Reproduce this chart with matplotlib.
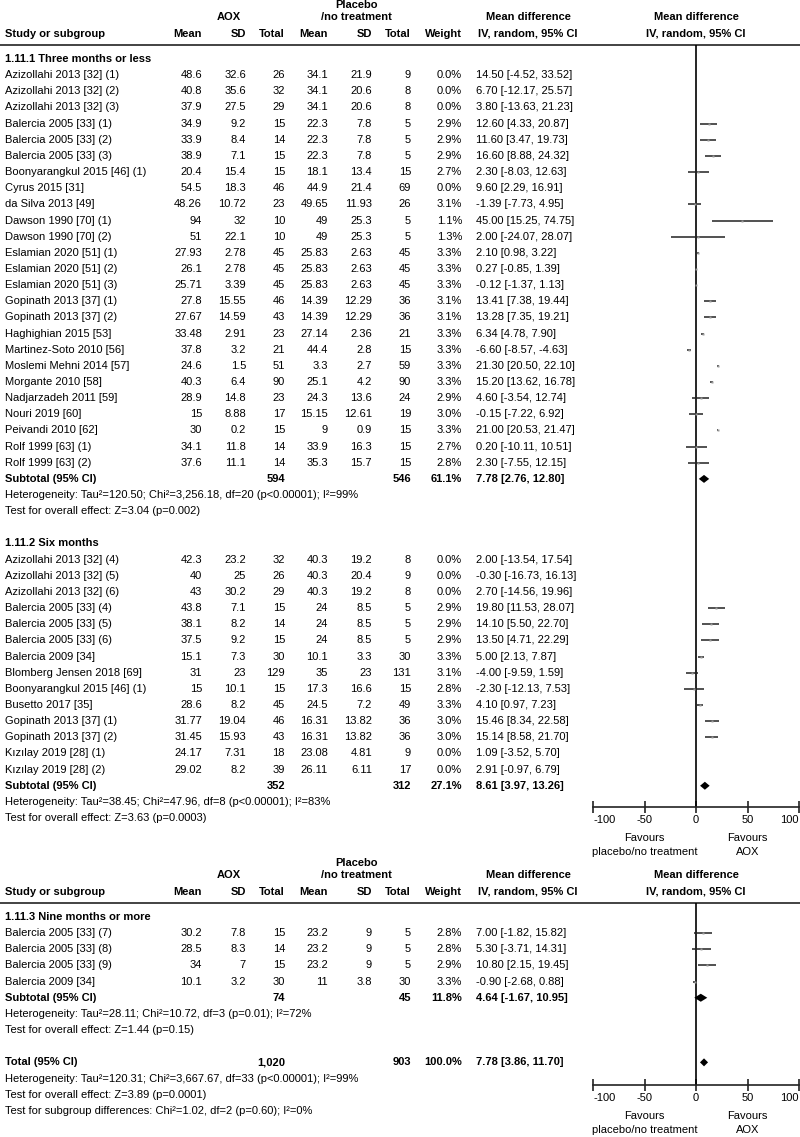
import matplotlib
matplotlib.use("Agg")
import matplotlib.pyplot as plt

plt.rcParams["font.family"] = ["Liberation Sans", "DejaVu Sans"]
plt.rcParams["axes.unicode_minus"] = False

# ---- 1.11.1 Three months or less ----
g1_study = ["Azizollahi 2013 [32] (1)", "Azizollahi 2013 [32] (2)", "Azizollahi 2013 [32] (3)",
            "Balercia 2005 [33] (1)", "Balercia 2005 [33] (2)", "Balercia 2005 [33] (3)",
            "Boonyarangkul 2015 [46] (1)", "Cyrus 2015 [31]", "da Silva 2013 [49]",
            "Dawson 1990 [70] (1)", "Dawson 1990 [70] (2)", "Eslamian 2020 [51] (1)",
            "Eslamian 2020 [51] (2)", "Eslamian 2020 [51] (3)", "Gopinath 2013 [37] (1)",
            "Gopinath 2013 [37] (2)", "Haghighian 2015 [53]", "Martinez-Soto 2010 [56]",
            "Moslemi Mehni 2014 [57]", "Morgante 2010 [58]", "Nadjarzadeh 2011 [59]",
            "Nouri 2019 [60]", "Peivandi 2010 [62]", "Rolf 1999 [63] (1)", "Rolf 1999 [63] (2)"]
g1_aox_mean = [48.6, 40.8, 37.9, 34.9, 33.9, 38.9, 20.4, 54.5, 48.26, 94, 51, 27.93, 26.1, 25.71,
               27.8, 27.67, 33.48, 37.8, 24.6, 40.3, 28.9, 15, 30, 34.1, 37.6]
g1_aox_sd = [32.6, 35.6, 27.5, 9.2, 8.4, 7.1, 15.4, 18.3, 10.72, 32, 22.1, 2.78, 2.78, 3.39,
             15.55, 14.59, 2.91, 3.2, 1.5, 6.4, 14.8, 8.88, 0.2, 11.8, 11.1]
g1_aox_n = [26, 32, 29, 15, 14, 15, 15, 46, 23, 10, 10, 45, 45, 45, 46, 43, 23, 21, 51, 90, 23,
            17, 15, 14, 14]
g1_pl_mean = [34.1, 34.1, 34.1, 22.3, 22.3, 22.3, 18.1, 44.9, 49.65, 49, 49, 25.83, 25.83, 25.83,
              14.39, 14.39, 27.14, 44.4, 3.3, 25.1, 24.3, 15.15, 9, 33.9, 35.3]
g1_pl_sd = [21.9, 20.6, 20.6, 7.8, 7.8, 7.8, 13.4, 21.4, 11.93, 25.3, 25.3, 2.63, 2.63, 2.63,
            12.29, 12.29, 2.36, 2.8, 2.7, 4.2, 13.6, 12.61, 0.9, 16.3, 15.7]
g1_pl_n = [9, 8, 8, 5, 5, 5, 15, 69, 26, 5, 5, 45, 45, 45, 36, 36, 21, 15, 59, 90, 24, 19, 15,
           15, 15]
g1_weight = [0.0, 0.0, 0.0, 2.9, 2.9, 2.9, 2.7, 0.0, 3.1, 1.1, 1.3, 3.3, 3.3, 3.3, 3.1, 3.1, 3.3,
             3.3, 3.3, 3.3, 2.9, 3.0, 3.3, 2.7, 2.8]
g1_md = [14.50, 6.70, 3.80, 12.60, 11.60, 16.60, 2.30, 9.60, -1.39, 45.00, 2.00, 2.10, 0.27,
         -0.12, 13.41, 13.28, 6.34, -6.60, 21.30, 15.20, 4.60, -0.15, 21.00, 0.20, 2.30]
g1_lo = [-4.52, -12.17, -13.63, 4.33, 3.47, 8.88, -8.03, 2.29, -7.73, 15.25, -24.07, 0.98, -0.85,
         -1.37, 7.38, 7.35, 4.78, -8.57, 20.50, 13.62, -3.54, -7.22, 20.53, -10.11, -7.55]
g1_hi = [33.52, 25.57, 21.23, 20.87, 19.73, 24.32, 12.63, 16.91, 4.95, 74.75, 28.07, 3.22, 1.39,
         1.13, 19.44, 19.21, 7.90, -4.63, 22.10, 16.78, 12.74, 6.92, 21.47, 10.51, 12.15]

# ---- 1.11.2 Six months ----
g2_study = ["Azizollahi 2013 [32] (4)", "Azizollahi 2013 [32] (5)", "Azizollahi 2013 [32] (6)",
            "Balercia 2005 [33] (4)", "Balercia 2005 [33] (5)", "Balercia 2005 [33] (6)",
            "Balercia 2009 [34]", "Blomberg Jensen 2018 [69]", "Boonyarangkul 2015 [46] (1)",
            "Busetto 2017 [35]", "Gopinath 2013 [37] (1)", "Gopinath 2013 [37] (2)",
            "Kızılay 2019 [28] (1)", "Kızılay 2019 [28] (2)"]
g2_aox_mean = [42.3, 40, 43, 43.8, 38.1, 37.5, 15.1, 31, 15, 28.6, 31.77, 31.45, 24.17, 29.02]
g2_aox_sd = [23.2, 25, 30.2, 7.1, 8.2, 9.2, 7.3, 23, 10.1, 8.2, 19.04, 15.93, 7.31, 8.2]
g2_aox_n = [32, 26, 29, 15, 14, 15, 30, 129, 15, 45, 46, 43, 18, 39]
g2_pl_mean = [40.3, 40.3, 40.3, 24, 24, 24, 10.1, 35, 17.3, 24.5, 16.31, 16.31, 23.08, 26.11]
g2_pl_sd = [19.2, 20.4, 19.2, 8.5, 8.5, 8.5, 3.3, 23, 16.6, 7.2, 13.82, 13.82, 4.81, 6.11]
g2_pl_n = [8, 9, 8, 5, 5, 5, 30, 131, 15, 49, 36, 36, 9, 17]
g2_weight = [0.0, 0.0, 0.0, 2.9, 2.9, 2.9, 3.3, 3.1, 2.8, 3.3, 3.0, 3.0, 0.0, 0.0]
g2_md = [2.00, -0.30, 2.70, 19.80, 14.10, 13.50, 5.00, -4.00, -2.30, 4.10, 15.46, 15.14, 1.09, 2.91]
g2_lo = [-13.54, -16.73, -14.56, 11.53, 5.50, 4.71, 2.13, -9.59, -12.13, 0.97, 8.34, 8.58, -3.52,
         -0.97]
g2_hi = [17.54, 16.13, 19.96, 28.07, 22.70, 22.29, 7.87, 1.59, 7.53, 7.23, 22.58, 21.70, 5.70, 6.79]

# ---- 1.11.3 Nine months or more ----
g3_study = ["Balercia 2005 [33] (7)", "Balercia 2005 [33] (8)", "Balercia 2005 [33] (9)",
            "Balercia 2009 [34]"]
g3_aox_mean = [30.2, 28.5, 34, 10.1]
g3_aox_sd = [7.8, 8.3, 7, 3.2]
g3_aox_n = [15, 14, 15, 30]
g3_pl_mean = [23.2, 23.2, 23.2, 11]
g3_pl_sd = [9, 9, 9, 3.8]
g3_pl_n = [5, 5, 5, 30]
g3_weight = [2.8, 2.8, 2.9, 3.3]
g3_md = [7.00, 5.30, 10.80, -0.90]
g3_lo = [-1.82, -3.71, 2.15, -2.68]
g3_hi = [15.82, 14.31, 19.45, 0.88]

# subtotals: group 1, group 2, group 3, overall total
sum_aox_n = ["594", "352", "74", "1,020"]
sum_pl_n = ["546", "312", "45", "903"]
sum_weight = [61.1, 27.1, 11.8, 100.0]
sum_md = [7.78, 8.61, 4.64, 7.78]
sum_lo = [2.76, 3.97, -1.67, 3.86]
sum_hi = [12.80, 13.26, 10.95, 11.70]
heterogeneity = ["Heterogeneity: Tau²=120.50; Chi²=3,256.18, df=20 (p<0.00001); I²=99%",
                 "Heterogeneity: Tau²=38.45; Chi²=47.96, df=8 (p<0.00001); I²=83%",
                 "Heterogeneity: Tau²=28.11; Chi²=10.72, df=3 (p=0.01); I²=72%",
                 "Heterogeneity: Tau²=120.31; Chi²=3,667.67, df=33 (p<0.00001); I²=99%"]
overall_test = ["Test for overall effect: Z=3.04 (p=0.002)",
                "Test for overall effect: Z=3.63 (p=0.0003)",
                "Test for overall effect: Z=1.44 (p=0.15)",
                "Test for overall effect: Z=3.89 (p=0.0001)"]
subgroup_test = "Test for subgroup differences: Chi²=1.02, df=2 (p=0.60); I²=0%"
group_titles = ["1.11.1 Three months or less", "1.11.2 Six months", "1.11.3 Nine months or more"]
x_ticks = [-100, -50, 0, 50, 100]
x_ticklabels = ["-100", "-50", "0", "50", "100"]

W, H = 800, 1137
FS = 8
DY = 16.15
LINE = "#222222"

fig = plt.figure(figsize=(W / 100, H / 100), dpi=100)
bg = fig.add_axes([0, 0, 1, 1])
bg.set_xlim(0, W)
bg.set_ylim(H, 0)
bg.axis("off")

# column anchors (pixels)
X_STUDY, X_AM, X_ASD, X_AN = 5, 202, 246, 285
X_PM, X_PSD, X_PN, X_W, X_CI = 328, 372, 411, 462, 476
X_CIHEAD, X_FOREST = 528, 696


def txt(x, y, s, ha="left", bold=False):
    bg.text(x, y, s, ha=ha, va="center", fontsize=FS,
            fontweight="bold" if bold else "normal")


def header(y0):
    txt(356, y0, "Placebo", ha="center", bold=True)
    txt(229, y0 + 12, "AOX", ha="center", bold=True)
    txt(356, y0 + 12, "/no treatment", ha="center", bold=True)
    txt(X_CIHEAD, y0 + 12, "Mean difference", ha="center", bold=True)
    txt(X_FOREST, y0 + 12, "Mean difference", ha="center", bold=True)
    y1 = y0 + 29
    txt(X_STUDY, y1, "Study or subgroup", bold=True)
    for x, s in [(X_AM, "Mean"), (X_ASD, "SD"), (X_AN, "Total"), (X_PM, "Mean"),
                 (X_PSD, "SD"), (X_PN, "Total"), (X_W, "Weight")]:
        txt(x, y1, s, ha="right", bold=True)
    txt(X_CIHEAD, y1, "IV, random, 95% CI", ha="center", bold=True)
    txt(X_FOREST, y1, "IV, random, 95% CI", ha="center", bold=True)
    bg.plot([0, W], [y0 + 40, y0 + 40], color=LINE, lw=1.2)


def forest_axes(top, bottom):
    left, right = 593, 799
    ax = fig.add_axes([left / W, 1 - bottom / H, (right - left) / W, (bottom - top) / H])
    ax.set_xlim(-100, 100)
    ax.set_ylim(bottom, top)
    ax.patch.set_alpha(0)
    for s in ["top", "left", "right"]:
        ax.spines[s].set_visible(False)
    ax.spines["bottom"].set_linewidth(1.2)
    ax.spines["bottom"].set_color(LINE)
    ax.set_yticks([])
    ax.set_xticks(x_ticks)
    labels = ax.set_xticklabels(x_ticklabels, fontsize=FS)
    labels[0].set_ha("left")
    labels[-1].set_ha("right")
    ax.tick_params(axis="x", direction="inout", length=8, width=1.2, color=LINE, pad=2)
    ax.axvline(0, color="black", lw=1.2)
    ax.text(-50, bottom + 31, "Favours", ha="center", va="center", fontsize=FS)
    ax.text(-50, bottom + 45, "placebo/no treatment", ha="center", va="center", fontsize=FS)
    ax.text(50, bottom + 31, "Favours", ha="center", va="center", fontsize=FS)
    ax.text(50, bottom + 45, "AOX", ha="center", va="center", fontsize=FS)
    return ax


def study_rows(ax, y0, study, am, asd, an, pm, psd, pn, w, md, lo, hi):
    for i in range(len(study)):
        y = y0 + i * DY
        txt(X_STUDY, y, study[i])
        txt(X_AM, y, f"{am[i]:g}", ha="right")
        txt(X_ASD, y, f"{asd[i]:g}", ha="right")
        txt(X_AN, y, f"{an[i]:g}", ha="right")
        txt(X_PM, y, f"{pm[i]:g}", ha="right")
        txt(X_PSD, y, f"{psd[i]:g}", ha="right")
        txt(X_PN, y, f"{pn[i]:g}", ha="right")
        txt(X_W, y, f"{w[i]:.1f}%", ha="right")
        txt(X_CI, y, f"{md[i]:.2f} [{lo[i]:.2f}, {hi[i]:.2f}]")
        if w[i] > 0:
            ax.hlines(y, lo[i], hi[i], color=LINE, lw=1.1)
            ax.plot(md[i], y, "s", ms=1.8, color="#9a9a9a", mec="none")


def summary_row(ax, y, label, k):
    txt(X_STUDY, y, label, bold=True)
    txt(X_AN, y, sum_aox_n[k], ha="right", bold=True)
    txt(X_PN, y, sum_pl_n[k], ha="right", bold=True)
    txt(X_W, y, f"{sum_weight[k]:.1f}%", ha="right", bold=True)
    txt(X_CI, y, f"{sum_md[k]:.2f} [{sum_lo[k]:.2f}, {sum_hi[k]:.2f}]", bold=True)
    h = 4
    ax.fill([sum_lo[k], sum_md[k], sum_hi[k], sum_md[k]], [y, y - h, y, y + h],
            color="black", lw=0)
    txt(X_STUDY, y + DY, heterogeneity[k])
    txt(X_STUDY, y + 2 * DY, overall_test[k])


# ---- top panel ----
header(5)
ax1 = forest_axes(45, 807)
y = 59
txt(X_STUDY, y, group_titles[0], bold=True)
study_rows(ax1, y + DY, g1_study, g1_aox_mean, g1_aox_sd, g1_aox_n, g1_pl_mean, g1_pl_sd,
           g1_pl_n, g1_weight, g1_md, g1_lo, g1_hi)
summary_row(ax1, y + 26 * DY, "Subtotal (95% CI)", 0)
y2 = y + 30 * DY
txt(X_STUDY, y2, group_titles[1], bold=True)
study_rows(ax1, y2 + DY, g2_study, g2_aox_mean, g2_aox_sd, g2_aox_n, g2_pl_mean, g2_pl_sd,
           g2_pl_n, g2_weight, g2_md, g2_lo, g2_hi)
summary_row(ax1, y2 + 15 * DY, "Subtotal (95% CI)", 1)

# ---- bottom panel ----
header(863)
ax2 = forest_axes(903, 1085)
y3 = 917
txt(X_STUDY, y3, group_titles[2], bold=True)
study_rows(ax2, y3 + DY, g3_study, g3_aox_mean, g3_aox_sd, g3_aox_n, g3_pl_mean, g3_pl_sd,
           g3_pl_n, g3_weight, g3_md, g3_lo, g3_hi)
summary_row(ax2, y3 + 5 * DY, "Subtotal (95% CI)", 2)
summary_row(ax2, y3 + 9 * DY, "Total (95% CI)", 3)
txt(X_STUDY, y3 + 12 * DY, subgroup_test)

fig.savefig("out.png", dpi=100)
